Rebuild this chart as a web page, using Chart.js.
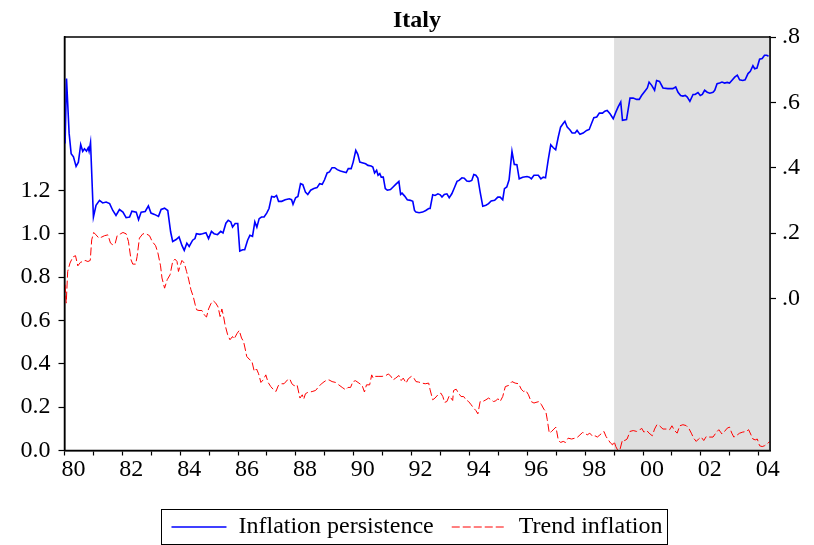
<!DOCTYPE html>
<html><head><meta charset="utf-8">
<script src="https://cdn.jsdelivr.net/npm/chart.js@4/dist/chart.umd.min.js"></script>
<style>html,body{margin:0;padding:0;background:#fff;}#wrap{width:814px;height:545px;}</style>
</head><body><div id="wrap"><canvas id="c" width="814" height="545"></canvas></div>
<script>
const chartTitle = 'Italy';
const seriesNames = ['Inflation persistence', 'Trend inflation'];

// [decimal year, value] — Inflation persistence (right axis)
const inflationPersistence = [[1980.02,0.474],[1980.07,0.673],[1980.16,0.505],[1980.23,0.443],[1980.31,0.433],[1980.40,0.404],[1980.48,0.417],[1980.56,0.471],[1980.63,0.450],[1980.69,0.458],[1980.76,0.451],[1980.82,0.461],[1980.85,0.450],[1980.90,0.477],[1981.00,0.249],[1981.09,0.285],[1981.21,0.300],[1981.32,0.292],[1981.44,0.295],[1981.56,0.290],[1981.67,0.269],[1981.78,0.254],[1981.90,0.272],[1982.02,0.264],[1982.13,0.247],[1982.25,0.249],[1982.33,0.267],[1982.48,0.264],[1982.56,0.241],[1982.65,0.264],[1982.79,0.266],[1982.90,0.283],[1982.99,0.261],[1983.11,0.257],[1983.25,0.251],[1983.34,0.272],[1983.46,0.276],[1983.57,0.269],[1983.67,0.203],[1983.74,0.174],[1983.86,0.180],[1983.96,0.188],[1984.06,0.162],[1984.14,0.147],[1984.23,0.169],[1984.31,0.159],[1984.43,0.178],[1984.51,0.183],[1984.56,0.198],[1984.68,0.196],[1984.77,0.198],[1984.89,0.201],[1984.98,0.183],[1985.08,0.205],[1985.17,0.198],[1985.29,0.195],[1985.40,0.205],[1985.48,0.200],[1985.58,0.230],[1985.66,0.239],[1985.75,0.234],[1985.81,0.218],[1985.90,0.229],[1985.99,0.229],[1986.06,0.145],[1986.16,0.149],[1986.23,0.149],[1986.33,0.178],[1986.41,0.193],[1986.50,0.190],[1986.58,0.234],[1986.65,0.218],[1986.73,0.244],[1986.81,0.249],[1986.90,0.249],[1986.99,0.261],[1987.07,0.275],[1987.16,0.312],[1987.25,0.310],[1987.33,0.315],[1987.40,0.297],[1987.51,0.297],[1987.63,0.302],[1987.77,0.305],[1987.85,0.302],[1987.90,0.288],[1987.99,0.308],[1988.07,0.312],[1988.16,0.351],[1988.24,0.348],[1988.33,0.325],[1988.41,0.318],[1988.51,0.331],[1988.62,0.336],[1988.73,0.339],[1988.82,0.351],[1988.91,0.349],[1988.99,0.363],[1989.08,0.384],[1989.16,0.387],[1989.25,0.400],[1989.34,0.400],[1989.43,0.394],[1989.54,0.390],[1989.66,0.387],[1989.74,0.385],[1989.81,0.397],[1989.91,0.397],[1989.98,0.417],[1990.07,0.453],[1990.14,0.441],[1990.21,0.417],[1990.29,0.415],[1990.41,0.412],[1990.49,0.407],[1990.60,0.405],[1990.66,0.402],[1990.72,0.384],[1990.79,0.392],[1990.84,0.377],[1990.90,0.382],[1990.95,0.371],[1991.02,0.371],[1991.09,0.336],[1991.16,0.331],[1991.27,0.333],[1991.36,0.341],[1991.45,0.349],[1991.56,0.358],[1991.62,0.318],[1991.67,0.322],[1991.76,0.313],[1991.85,0.302],[1991.96,0.300],[1992.04,0.297],[1992.10,0.269],[1992.15,0.264],[1992.26,0.262],[1992.38,0.264],[1992.49,0.269],[1992.59,0.275],[1992.64,0.275],[1992.73,0.317],[1992.81,0.315],[1992.91,0.320],[1992.99,0.317],[1993.05,0.310],[1993.13,0.318],[1993.22,0.320],[1993.30,0.308],[1993.39,0.320],[1993.49,0.341],[1993.57,0.358],[1993.64,0.361],[1993.74,0.369],[1993.82,0.368],[1993.91,0.359],[1993.99,0.358],[1994.08,0.361],[1994.15,0.379],[1994.22,0.377],[1994.29,0.368],[1994.37,0.325],[1994.46,0.282],[1994.57,0.285],[1994.66,0.290],[1994.75,0.298],[1994.87,0.300],[1994.98,0.310],[1995.06,0.310],[1995.15,0.302],[1995.21,0.336],[1995.29,0.341],[1995.37,0.363],[1995.47,0.450],[1995.55,0.410],[1995.64,0.409],[1995.72,0.366],[1995.84,0.371],[1995.99,0.373],[1996.07,0.371],[1996.14,0.366],[1996.23,0.377],[1996.38,0.377],[1996.47,0.366],[1996.55,0.371],[1996.63,0.369],[1996.72,0.422],[1996.81,0.470],[1996.90,0.461],[1996.98,0.455],[1997.07,0.494],[1997.15,0.524],[1997.24,0.535],[1997.30,0.542],[1997.38,0.524],[1997.47,0.516],[1997.55,0.506],[1997.65,0.506],[1997.72,0.514],[1997.82,0.502],[1997.93,0.506],[1998.05,0.514],[1998.14,0.517],[1998.22,0.535],[1998.30,0.553],[1998.40,0.555],[1998.49,0.567],[1998.60,0.567],[1998.68,0.573],[1998.76,0.575],[1998.86,0.565],[1998.97,0.550],[1999.06,0.570],[1999.14,0.586],[1999.23,0.601],[1999.29,0.545],[1999.43,0.547],[1999.55,0.613],[1999.66,0.613],[1999.78,0.609],[1999.87,0.609],[1999.95,0.621],[2000.07,0.635],[2000.15,0.644],[2000.21,0.662],[2000.30,0.652],[2000.40,0.637],[2000.47,0.667],[2000.57,0.664],[2000.69,0.644],[2000.86,0.642],[2001.03,0.642],[2001.13,0.647],[2001.21,0.631],[2001.30,0.621],[2001.38,0.619],[2001.46,0.621],[2001.53,0.616],[2001.62,0.603],[2001.73,0.624],[2001.80,0.624],[2001.90,0.630],[2001.98,0.621],[2002.05,0.624],[2002.13,0.637],[2002.22,0.631],[2002.31,0.628],[2002.42,0.631],[2002.48,0.637],[2002.56,0.657],[2002.65,0.659],[2002.73,0.662],[2002.82,0.659],[2002.91,0.661],[2002.99,0.659],[2003.07,0.667],[2003.17,0.677],[2003.26,0.683],[2003.34,0.669],[2003.45,0.667],[2003.53,0.669],[2003.63,0.688],[2003.71,0.695],[2003.80,0.712],[2003.86,0.703],[2003.94,0.705],[2004.03,0.732],[2004.12,0.734],[2004.20,0.744],[2004.28,0.744],[2004.34,0.741]];

// [decimal year, value] — Trend inflation (left axis)
const trendInflation = [[1980.02,0.765],[1980.06,0.680],[1980.11,0.826],[1980.19,0.865],[1980.29,0.893],[1980.38,0.899],[1980.46,0.852],[1980.55,0.868],[1980.63,0.872],[1980.71,0.877],[1980.81,0.872],[1980.89,0.877],[1980.94,0.972],[1981.01,1.006],[1981.09,0.995],[1981.19,0.980],[1981.29,0.985],[1981.38,0.991],[1981.50,0.995],[1981.59,0.957],[1981.67,0.949],[1981.75,0.954],[1981.82,0.991],[1981.94,1.000],[1982.02,1.006],[1982.13,1.000],[1982.21,0.965],[1982.30,0.880],[1982.36,0.860],[1982.46,0.860],[1982.51,0.895],[1982.59,0.980],[1982.71,1.000],[1982.82,1.000],[1982.94,0.991],[1983.03,0.965],[1983.15,0.945],[1983.23,0.911],[1983.32,0.852],[1983.37,0.796],[1983.46,0.749],[1983.55,0.788],[1983.65,0.811],[1983.74,0.872],[1983.82,0.883],[1983.89,0.872],[1983.94,0.826],[1983.99,0.849],[1984.06,0.877],[1984.14,0.865],[1984.22,0.826],[1984.29,0.791],[1984.37,0.742],[1984.45,0.711],[1984.52,0.672],[1984.57,0.649],[1984.65,0.646],[1984.75,0.646],[1984.83,0.626],[1984.91,0.616],[1984.98,0.653],[1985.06,0.677],[1985.14,0.691],[1985.23,0.680],[1985.31,0.662],[1985.38,0.618],[1985.44,0.653],[1985.50,0.618],[1985.55,0.580],[1985.64,0.534],[1985.72,0.511],[1985.81,0.526],[1985.86,0.514],[1985.96,0.539],[1986.04,0.554],[1986.12,0.519],[1986.19,0.503],[1986.24,0.473],[1986.30,0.434],[1986.38,0.422],[1986.48,0.411],[1986.56,0.365],[1986.64,0.376],[1986.71,0.354],[1986.79,0.314],[1986.87,0.326],[1986.96,0.349],[1987.04,0.314],[1987.13,0.295],[1987.21,0.283],[1987.31,0.272],[1987.39,0.299],[1987.48,0.308],[1987.59,0.308],[1987.71,0.326],[1987.79,0.330],[1987.86,0.308],[1987.94,0.299],[1988.04,0.303],[1988.14,0.242],[1988.22,0.257],[1988.27,0.237],[1988.33,0.262],[1988.41,0.268],[1988.56,0.272],[1988.68,0.277],[1988.79,0.295],[1988.91,0.311],[1989.03,0.322],[1989.14,0.326],[1989.25,0.318],[1989.37,0.314],[1989.48,0.303],[1989.60,0.291],[1989.72,0.280],[1989.80,0.291],[1989.89,0.291],[1989.97,0.318],[1990.06,0.322],[1990.18,0.311],[1990.29,0.300],[1990.37,0.270],[1990.44,0.303],[1990.55,0.303],[1990.62,0.349],[1990.67,0.334],[1990.75,0.342],[1990.87,0.342],[1990.98,0.342],[1991.10,0.345],[1991.19,0.353],[1991.27,0.345],[1991.36,0.326],[1991.45,0.334],[1991.56,0.346],[1991.64,0.323],[1991.71,0.334],[1991.81,0.311],[1991.88,0.330],[1991.99,0.342],[1992.08,0.334],[1992.15,0.318],[1992.24,0.316],[1992.36,0.311],[1992.47,0.308],[1992.59,0.311],[1992.64,0.280],[1992.73,0.234],[1992.81,0.242],[1992.91,0.257],[1993.01,0.265],[1993.08,0.249],[1993.14,0.222],[1993.22,0.226],[1993.30,0.252],[1993.36,0.242],[1993.42,0.231],[1993.45,0.277],[1993.54,0.283],[1993.62,0.265],[1993.71,0.249],[1993.80,0.249],[1993.88,0.234],[1993.97,0.226],[1994.06,0.211],[1994.14,0.196],[1994.22,0.185],[1994.29,0.169],[1994.37,0.226],[1994.46,0.226],[1994.57,0.234],[1994.66,0.242],[1994.75,0.234],[1994.83,0.226],[1994.91,0.229],[1994.98,0.239],[1995.06,0.226],[1995.15,0.249],[1995.24,0.295],[1995.35,0.300],[1995.47,0.318],[1995.58,0.311],[1995.70,0.308],[1995.79,0.283],[1995.87,0.272],[1995.95,0.277],[1996.04,0.257],[1996.13,0.226],[1996.23,0.219],[1996.30,0.222],[1996.41,0.226],[1996.49,0.211],[1996.57,0.191],[1996.64,0.180],[1996.69,0.142],[1996.76,0.080],[1996.84,0.088],[1996.92,0.099],[1996.99,0.108],[1997.07,0.049],[1997.15,0.037],[1997.24,0.042],[1997.32,0.037],[1997.41,0.057],[1997.53,0.053],[1997.65,0.057],[1997.74,0.062],[1997.82,0.072],[1997.91,0.083],[1997.99,0.080],[1998.07,0.072],[1998.16,0.080],[1998.26,0.065],[1998.34,0.068],[1998.42,0.062],[1998.51,0.072],[1998.60,0.083],[1998.65,0.088],[1998.72,0.065],[1998.80,0.049],[1998.88,0.034],[1998.95,0.026],[1999.00,0.042],[1999.06,0.018],[1999.12,0.003],[1999.20,0.003],[1999.29,0.049],[1999.37,0.046],[1999.45,0.053],[1999.55,0.088],[1999.66,0.092],[1999.78,0.088],[1999.87,0.092],[1999.95,0.103],[2000.03,0.085],[2000.13,0.092],[2000.21,0.080],[2000.32,0.068],[2000.40,0.099],[2000.48,0.119],[2000.57,0.114],[2000.69,0.099],[2000.83,0.099],[2000.92,0.096],[2001.00,0.114],[2001.09,0.092],[2001.18,0.080],[2001.27,0.114],[2001.38,0.119],[2001.49,0.115],[2001.58,0.103],[2001.67,0.080],[2001.75,0.057],[2001.84,0.042],[2001.92,0.053],[2002.01,0.062],[2002.10,0.046],[2002.19,0.065],[2002.30,0.062],[2002.42,0.062],[2002.53,0.083],[2002.62,0.096],[2002.73,0.076],[2002.82,0.088],[2002.91,0.103],[2002.99,0.108],[2003.07,0.080],[2003.14,0.062],[2003.22,0.068],[2003.34,0.080],[2003.45,0.085],[2003.57,0.088],[2003.65,0.096],[2003.72,0.076],[2003.80,0.053],[2003.88,0.049],[2003.95,0.053],[2004.03,0.022],[2004.12,0.018],[2004.20,0.022],[2004.30,0.031],[2004.38,0.042]];

const yearTicks = [1980,1981,1982,1983,1984,1985,1986,1987,1988,1989,1990,1991,1992,1993,1994,1995,1996,1997,1998,1999,2000,2001,2002,2003,2004];
const yearLabels = {1980:'80',1982:'82',1984:'84',1986:'86',1988:'88',1990:'90',1992:'92',1994:'94',1996:'96',1998:'98',2000:'00',2002:'02',2004:'04'};
const leftTicks = [0.0, 0.2, 0.4, 0.6, 0.8, 1.0, 1.2];
const leftLabels = ['0.0','0.2','0.4','0.6','0.8','1.0','1.2'];
const rightTicks = [0.0, 0.2, 0.4, 0.6, 0.8];
const rightLabels = ['.0','.2','.4','.6','.8'];
const xRange = [1980.0, 2004.39];
const leftRange = [0, 1.908];
const rightRange = [-0.4657, 0.8];
const shadeStart = 1999.0;

const FONT = '"Liberation Serif", "Times New Roman", serif';

const shadePlugin = {
  id: 'shade',
  beforeDatasetsDraw(chart) {
    const {ctx, chartArea: a, scales: {x}} = chart;
    const x0 = x.getPixelForValue(shadeStart);
    ctx.save();
    ctx.fillStyle = '#dfdfdf';
    ctx.fillRect(x0, a.top, a.right - x0, a.bottom - a.top);
    ctx.restore();
  }
};
const framePlugin = {
  id: 'frame',
  afterDatasetsDraw(chart) {
    const {ctx, chartArea: a} = chart;
    ctx.save();
    ctx.strokeStyle = '#000';
    ctx.lineWidth = 1.5;
    ctx.strokeRect(a.left, a.top, a.right - a.left, a.bottom - a.top);
    ctx.restore();
  },
  afterDraw(chart) {
    const lg = chart.legend;
    if (!lg || !lg.legendHitBoxes || !lg.legendHitBoxes.length) return;
    const hb = lg.legendHitBoxes;
    const l = Math.min(...hb.map(h => h.left)) - 10;
    const r = Math.max(...hb.map(h => h.left + h.width)) + 5;
    const t = Math.min(...hb.map(h => h.top)) - 6;
    const b = Math.max(...hb.map(h => h.top + h.height)) + 6;
    const ctx = chart.ctx;
    ctx.save();
    ctx.strokeStyle = '#000';
    ctx.lineWidth = 1;
    ctx.strokeRect(Math.round(l) + 0.5, Math.round(t) + 0.5, Math.round(r - l), Math.min(Math.round(b - t), chart.height - Math.round(t) - 1));
    ctx.restore();
  }
};

new Chart(document.getElementById('c'), {
  type: 'line',
  data: {
    datasets: [
      { label: seriesNames[0], data: inflationPersistence.map(([x, y]) => ({x, y})), yAxisID: 'yR',
        borderColor: '#0000ff', backgroundColor: '#0000ff', borderWidth: 1.6, pointRadius: 0, pointStyle: 'line', tension: 0, order: 1 },
      { label: seriesNames[1], data: trendInflation.map(([x, y]) => ({x, y})), yAxisID: 'yL',
        borderColor: '#ff0000', backgroundColor: '#ff0000', borderWidth: 1, borderDash: [8, 3], pointRadius: 0, pointStyle: 'line', tension: 0, order: 2 }
    ]
  },
  options: {
    responsive: false, animation: false, devicePixelRatio: 1,
    layout: { padding: { left: 20, right: 0, top: 0, bottom: 0 } },
    plugins: {
      title: { display: true, text: chartTitle, color: '#000', font: { family: FONT, size: 24, weight: 'bold' }, padding: { top: 6, bottom: 2.2 } },
      legend: {
        position: 'bottom', maxHeight: 36,
        labels: {
          usePointStyle: true, pointStyleWidth: 55, color: '#000', padding: 6,
          font: { family: FONT, size: 24 },
          generateLabels(chart) {
            const items = Chart.defaults.plugins.legend.labels.generateLabels(chart);
            items.forEach((it, i) => {
              const ds = chart.data.datasets[it.datasetIndex];
              it.pointStyle = 'line';
              it.strokeStyle = ds.borderColor;
              it.fillStyle = ds.borderColor;
              it.lineWidth = ds.borderWidth;
              it.lineDash = ds.borderDash || [];
              if (i === 0) it.text = it.text + '  ';
            });
            return items;
          }
        }
      },
      tooltip: { enabled: false }
    },
    scales: {
      x: {
        type: 'linear', min: xRange[0], max: xRange[1],
        afterBuildTicks: s => { s.ticks = yearTicks.map(v => ({ value: v })); },
        ticks: { autoSkip: false, maxRotation: 0, minRotation: 0, labelOffset: 9, padding: 0, color: '#000',
          font: { family: FONT, size: 24 }, callback: v => yearLabels[v] || '' },
        grid: { drawOnChartArea: false, drawTicks: true, tickLength: 5, tickColor: '#000', tickWidth: 1.2 },
        border: { display: true, color: '#000', width: 1.5 },
        afterFit: s => { s.height = 58.5; }
      },
      yL: {
        position: 'left', min: leftRange[0], max: leftRange[1],
        afterBuildTicks: s => { s.ticks = leftTicks.map(v => ({ value: v })); },
        ticks: { padding: 8, color: '#000', font: { family: FONT, size: 24 },
          callback: v => leftLabels[leftTicks.findIndex(t => Math.abs(t - v) < 1e-9)] ?? '' },
        grid: { drawOnChartArea: false, drawTicks: true, tickLength: 6, tickColor: '#000', tickWidth: 1.2 },
        border: { display: true, color: '#000', width: 1.5 },
        afterFit: s => { s.width = 44.5; }
      },
      yR: {
        position: 'right', min: rightRange[0], max: rightRange[1],
        afterBuildTicks: s => { s.ticks = rightTicks.map(v => ({ value: v })); },
        ticks: { padding: 6, color: '#000', font: { family: FONT, size: 24 },
          callback: v => rightLabels[rightTicks.findIndex(t => Math.abs(t - v) < 1e-9)] ?? '' },
        grid: { drawOnChartArea: false, drawTicks: true, tickLength: 6, tickColor: '#000', tickWidth: 1.2 },
        border: { display: true, color: '#000', width: 1.5 },
        afterFit: s => { s.width = 44; }
      }
    }
  },
  plugins: [shadePlugin, framePlugin]
});
</script></body></html>
